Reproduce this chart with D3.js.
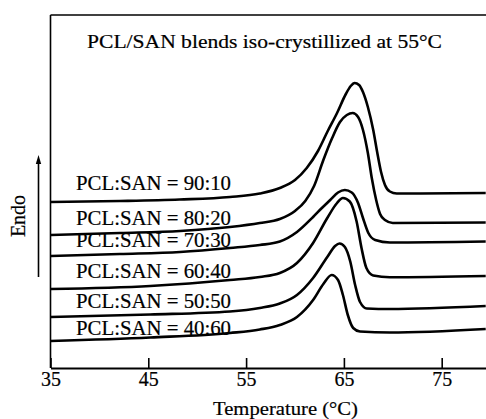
<!DOCTYPE html>
<html>
<head>
<meta charset="utf-8">
<script src="https://cdn.jsdelivr.net/npm/d3@7"></script>
<style>
  html, body { margin: 0; padding: 0; background: #fff; }
  svg { display: block; }
  svg text { font-family: "Liberation Serif", "Times New Roman", Times, serif; }
</style>
</head>
<body>
<svg id="chart" width="486" height="419"></svg>
<script>
// ---- data ----
const title = "PCL/SAN blends iso-crystillized at 55°C";
const xTitle = "Temperature (°C)";
const yTitle = "Endo";
const xTicks = [35, 45, 55, 65, 75];
const labels = ["PCL:SAN = 90:10", "PCL:SAN = 80:20", "PCL:SAN = 70:30",
                "PCL:SAN = 60:40", "PCL:SAN = 50:50", "PCL:SAN = 40:60"];

// temperature (°C) and heat-flow (arbitrary units, stacked) for each blend
const T_90_10 = [35, 42.1, 48.2, 53.35, 56.4, 58.45, 60.0, 61.2, 62.35, 63.35, 64.3, 65.2, 65.7, 66.1, 66.55, 66.95, 67.45, 68.0, 68.4, 68.8, 69.2, 69.7, 70.4, 72.8, 79.5];
const H_90_10 = [16.6, 16.7, 16.85, 17.1, 17.45, 18.0, 18.8, 20.0, 21.7, 23.7, 25.5, 27.4, 28.2, 28.5, 28.3, 27.6, 26.1, 23.8, 21.6, 19.6, 18.3, 17.65, 17.45, 17.45, 17.5];

const T_80_20 = [35, 42.1, 48.25, 53.35, 56.4, 58.45, 60.0, 61.05, 61.95, 62.9, 63.8, 64.6, 65.3, 65.9, 66.45, 66.95, 67.45, 67.85, 68.3, 68.7, 69.2, 70.0, 79.5];
const H_80_20 = [13.3, 13.5, 13.7, 14.1, 14.5, 14.9, 15.7, 16.7, 18.2, 20.8, 23.0, 24.6, 25.3, 25.5, 25.1, 23.8, 21.5, 19.0, 16.8, 15.4, 14.8, 14.5, 14.55];

const T_70_30 = [35, 42.1, 48.25, 53.35, 56.4, 58.45, 60.2, 61.85, 62.75, 63.6, 64.4, 65.1, 65.8, 66.45, 66.95, 67.5, 68.2, 69.7, 79.5];
const H_70_30 = [11.2, 11.4, 11.6, 12.0, 12.3, 12.65, 13.6, 15.1, 16.0, 16.8, 17.55, 17.8, 17.55, 16.5, 15.0, 13.5, 12.8, 12.55, 12.65];

const T_60_40 = [35, 45.2, 53.35, 56.4, 58.45, 60.2, 61.85, 63.3, 64.3, 64.9, 65.6, 66.3, 66.8, 67.3, 68.0, 69.7, 79.5];
const H_60_40 = [7.9, 8.2, 8.8, 9.1, 9.5, 10.5, 12.5, 15.0, 16.5, 17.0, 16.65, 14.65, 12.0, 10.0, 9.25, 9.07, 9.2];

const T_50_50 = [35, 45.2, 53.35, 56.4, 58.45, 60.2, 61.85, 63.3, 64.1, 64.55, 65.1, 65.65, 66.15, 66.65, 67.35, 69.7, 79.5];
const H_50_50 = [5.1, 5.35, 5.65, 6.0, 6.45, 7.3, 9.0, 11.1, 12.2, 12.45, 12.1, 10.65, 8.3, 6.6, 5.95, 5.9, 6.2];

const T_40_60 = [35, 45.2, 53.35, 56.4, 58.45, 60.2, 61.85, 62.9, 63.75, 64.4, 64.9, 65.4, 65.95, 66.65, 69.7, 79.5];
const H_40_60 = [2.7, 3.05, 3.5, 3.85, 4.3, 5.1, 6.8, 8.4, 9.3, 8.8, 7.3, 5.3, 4.0, 3.65, 3.55, 3.9];

const seriesT = [T_90_10, T_80_20, T_70_30, T_60_40, T_50_50, T_40_60];
const seriesH = [H_90_10, H_80_20, H_70_30, H_60_40, H_50_50, H_40_60];

// ---- layout ----
const W = 486, H = 419;
const mLeft = 50.5, mRight = 486, mTop = 15, mBottom = 368;
const labelLift = [12, 10, 9, 11, 9, 6];
const SERIF = "Liberation Serif";
const TEXT_STROKE = 0.2;

const svg = d3.select("#chart");
svg.append("rect").attr("width", W).attr("height", H).attr("fill", "#fff");

const x = d3.scaleLinear().domain([35, 79.53]).range([mLeft, mRight]);
const y = d3.scaleLinear().domain([0, 35.3]).range([mBottom, mTop]);

function heavy(sel) {
  return sel.attr("fill", "#000").attr("stroke", "#000").attr("stroke-width", TEXT_STROKE);
}

// frame: top line + left axis
svg.append("line").attr("x1", mLeft).attr("x2", mRight).attr("y1", mTop).attr("y2", mTop)
   .attr("stroke", "#000").attr("stroke-width", 1.6);
svg.append("line").attr("x1", mLeft).attr("x2", mLeft).attr("y1", mTop).attr("y2", mBottom)
   .attr("stroke", "#000").attr("stroke-width", 1.6);

// bottom axis
const xAxis = d3.axisBottom(x).tickValues(xTicks).tickSizeInner(-10).tickSizeOuter(0)
  .tickFormat(d3.format("d"));
const gx = svg.append("g").attr("transform", `translate(0,${mBottom})`).call(xAxis)
  .attr("font-family", SERIF).attr("font-size", 20);
gx.select(".domain").attr("stroke", "#000").attr("stroke-width", 1.8);
gx.selectAll(".tick line").attr("stroke", "#000").attr("stroke-width", 1.6);
heavy(gx.selectAll(".tick text").attr("y", 18).attr("dy", null)
  .attr("font-family", SERIF).attr("font-size", 20));

// curves
const line = d3.line().x(d => x(d[0])).y(d => y(d[1])).curve(d3.curveMonotoneX);
seriesT.forEach((Ts, i) => {
  const pts = Ts.map((t, j) => [t, seriesH[i][j]]);
  svg.append("path").attr("d", line(pts)).attr("fill", "none")
     .attr("stroke", "#000").attr("stroke-width", 2.6).attr("stroke-linejoin", "round");
  heavy(svg.append("text").attr("x", 76).attr("y", y(seriesH[i][0]) - labelLift[i])
     .attr("font-family", SERIF).attr("font-size", 20)
     .attr("textLength", 155).attr("lengthAdjust", "spacingAndGlyphs")
     .text(labels[i]));
});

// title
heavy(svg.append("text").attr("x", 87).attr("y", 48).attr("font-family", SERIF).attr("font-size", 19)
   .attr("textLength", 355).attr("lengthAdjust", "spacingAndGlyphs")
   .text(title));

// x title
heavy(svg.append("text").attr("x", 213).attr("y", 415).attr("font-family", SERIF).attr("font-size", 19)
   .attr("textLength", 145).attr("lengthAdjust", "spacingAndGlyphs")
   .text(xTitle));

// y title (Endo) with arrow
heavy(svg.append("text").attr("transform", "translate(25,216) rotate(-90)")
   .attr("text-anchor", "middle").attr("font-family", SERIF).attr("font-size", 20)
   .text(yTitle));
svg.append("line").attr("x1", 38.5).attr("x2", 38.5).attr("y1", 277).attr("y2", 162)
   .attr("stroke", "#000").attr("stroke-width", 1.6);
svg.append("path").attr("d", "M38.5,155 L35.8,164 L41.2,164 Z").attr("fill", "#000");
</script>
</body>
</html>
